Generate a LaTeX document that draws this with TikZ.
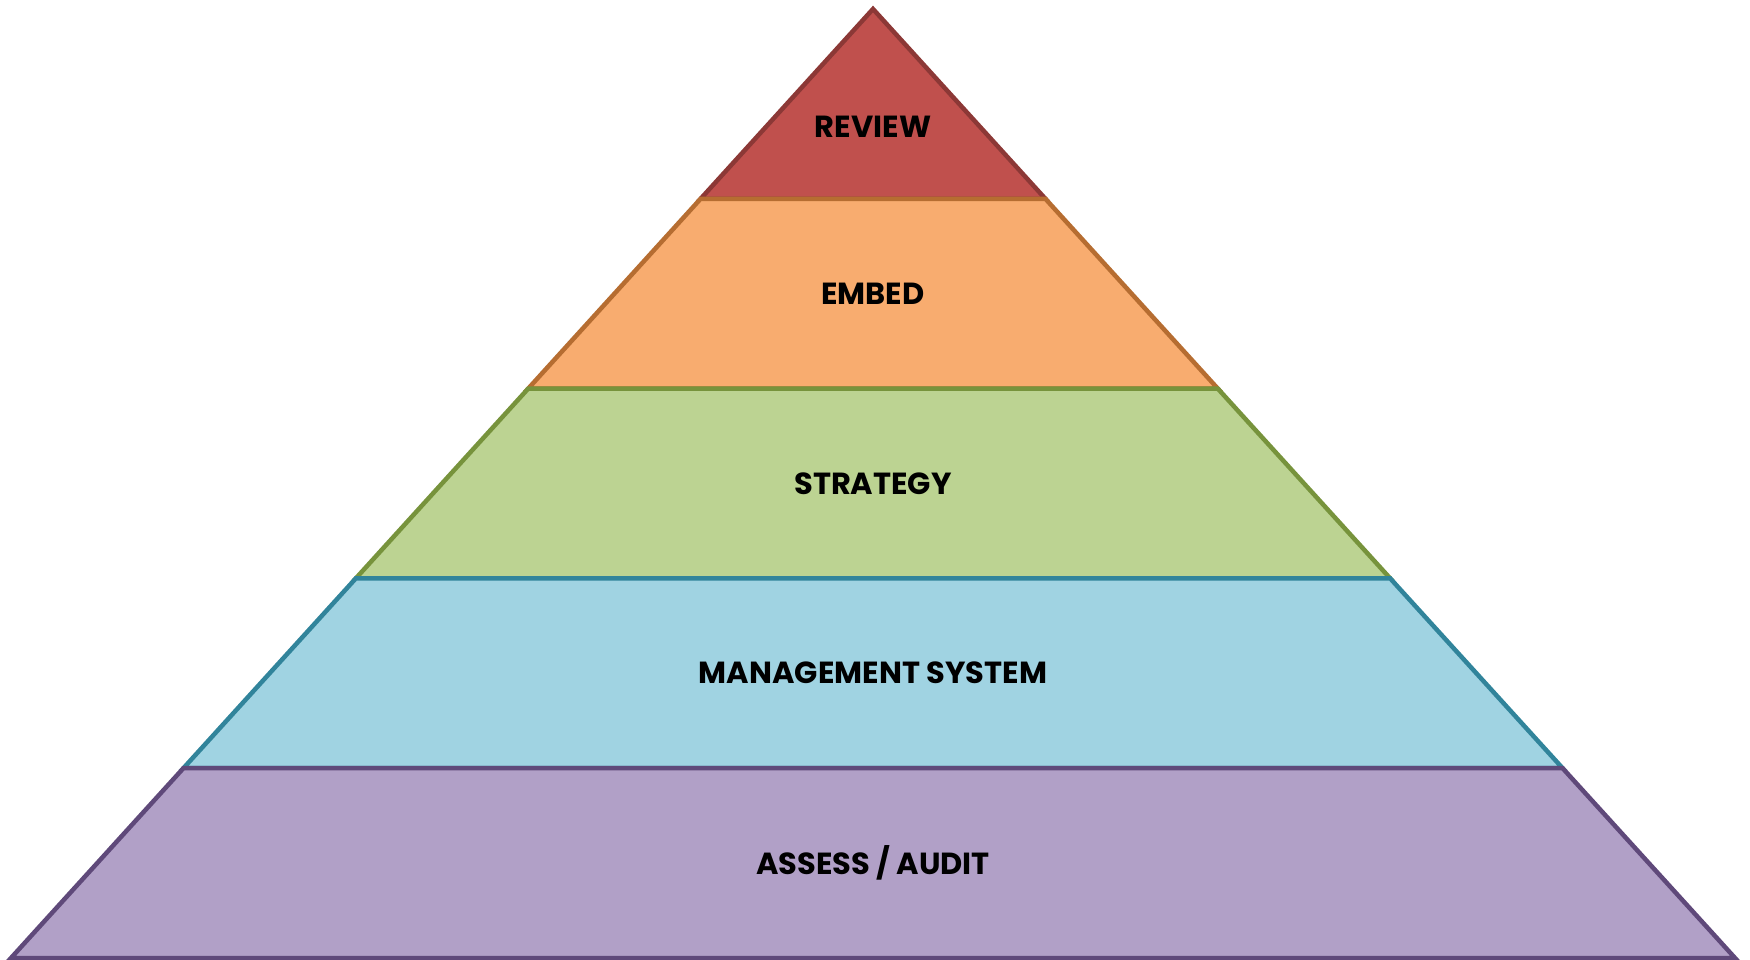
\documentclass[tikz,border=0pt]{standalone}
\usepackage{fontspec}
\setmainfont{Poppins}
\definecolor{revF}{HTML}{C0504D}\definecolor{revD}{HTML}{8C3836}
\definecolor{embF}{HTML}{F8AC6F}\definecolor{embD}{HTML}{B66D31}
\definecolor{strF}{HTML}{BCD392}\definecolor{strD}{HTML}{77933C}
\definecolor{manF}{HTML}{A0D3E2}\definecolor{manD}{HTML}{31849B}
\definecolor{assF}{HTML}{B1A0C7}\definecolor{assD}{HTML}{5F497A}
\tikzset{
  layer/.style={line width=4.5pt, line join=miter},
  lbl/.style={font=\fontsize{30.5}{33}\selectfont\bfseries, text=black, inner sep=0pt, anchor=center}
}
\begin{document}
\begin{tikzpicture}[x=1pt,y=-1pt]
\useasboundingbox (0,0) rectangle (1750,960);
% y levels: 9, 198.8, 388.6, 578.4, 768.2, 958 ; half width = 0.9083*(y-9)
\coordinate (apex) at (873,9);
\coordinate (l1) at (700.6,198.8) ; \coordinate (r1) at (1045.4,198.8);
\coordinate (l2) at (528.2,388.6) ; \coordinate (r2) at (1217.8,388.6);
\coordinate (l3) at (355.8,578.4) ; \coordinate (r3) at (1390.2,578.4);
\coordinate (l4) at (183.4,768.2) ; \coordinate (r4) at (1562.6,768.2);
\coordinate (l5) at (11,958)      ; \coordinate (r5) at (1735,958);
\filldraw[layer, fill=revF, draw=revD] (apex) -- (r1) -- (l1) -- cycle;
\filldraw[layer, fill=embF, draw=embD] (l1) -- (r1) -- (r2) -- (l2) -- cycle;
\filldraw[layer, fill=strF, draw=strD] (l2) -- (r2) -- (r3) -- (l3) -- cycle;
\filldraw[layer, fill=manF, draw=manD] (l3) -- (r3) -- (r4) -- (l4) -- cycle;
\filldraw[layer, fill=assF, draw=assD] (l4) -- (r4) -- (r5) -- (l5) -- cycle;
\node[lbl] (review) at (873,127) {REVIEW};
\node[lbl] (embed) at (873,293.5) {EMBED};
\node[lbl] (strategy) at (873,483.5) {STRATEGY};
\node[lbl] (mgmt) at (873,673) {MANAGEMENT SYSTEM};
\node[lbl] (assess) at (873,863) {ASSESS / AUDIT};
\end{tikzpicture}
\end{document}
